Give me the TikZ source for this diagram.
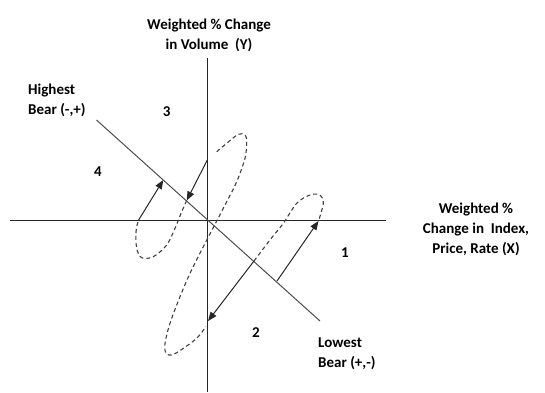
\documentclass[tikz,border=0pt]{standalone}
\usepackage{fontspec}
\setmainfont{Carlito}
\usepackage{tikz}
\usetikzlibrary{arrows.meta}
\tikzset{
  axl/.style={font=\bfseries\fontsize{15}{20}\selectfont, align=center, inner sep=0pt},
  sidelbl/.style={font=\bfseries\fontsize{15}{20}\selectfont, align=left, inner sep=0pt, anchor=west},
  qnum/.style={font=\bfseries\fontsize{15}{18}\selectfont, inner sep=0pt},
  axis/.style={line width=1.2pt, black!85},
  diag/.style={line width=1pt, black!70},
  traj/.style={dash pattern=on 4pt off 3pt, line width=1.1pt, black!75},
  arr/.style={-{Triangle[length=9pt,width=7pt]}, line width=1pt, black!85}
}

\begin{document}
\begin{tikzpicture}[x=1pt,y=-1pt]
\useasboundingbox (0,0) rectangle (545,392);
% axes and the bear line
\coordinate (xl) at (10,220.5);
\coordinate (xr) at (386,220.5);
\coordinate (yt) at (207.3,58.3);
\coordinate (yb) at (207.3,392);
\coordinate (bh) at (96.5,120);
\coordinate (bl) at (320,321);
\draw[axis] (xl) -- (xr);
\draw[axis] (yt) -- (yb);
\draw[diag] (bh) -- (bl);
% labels
\node[axl] (ytitle) at (209,35) {Weighted \% Change\\in Volume\ \ (Y)};
\node[axl] (xtitle) at (476,229) {Weighted \%\\Change in\ \ Index,\\Price, Rate (X)};
\node[sidelbl] (hi) at (28,100.5) {Highest\\Bear (-,+)};
\node[sidelbl] (lo) at (318,353.5) {Lowest\\Bear (+,-)};
\node[qnum] (q1) at (345,253) {1};
\node[qnum] (q2) at (256,333) {2};
\node[qnum] (q3) at (166.7,112) {3};
\node[qnum] (q4) at (98,172) {4};
% arrow ends
\coordinate (a0) at (138.3,220.5); \coordinate (a1) at (163.3,180);
\coordinate (b0) at (207.3,160);   \coordinate (b1) at (186.7,200.5);
\coordinate (c0) at (254,261);     \coordinate (c1) at (208,321);
\coordinate (d0) at (277,281);     \coordinate (d1) at (318.5,221);
\coordinate (e0) at (216.7,151.7); \coordinate (e1) at (206,326.5);
% dashed loops
\draw[traj] plot[smooth, tension=0.55] coordinates {(b1) (181.7,211.7) (175,228.3) (166.7,245) (153.3,256.7) (141.7,257.7) (136.7,248.3) (136,231.7) (a0)};
\draw[traj] plot[smooth, tension=0.55] coordinates {(e0) (226.7,143.3) (238.3,134.3) (245,135) (246.7,141.7) (245,158.3) (236.7,181.7) (226.7,201.7) (216.7,221) (203.3,246.7) (190,273.3) (180,296.7) (170,323.3) (165,343.3) (166,353) (172,355) (183.3,348.3) (196.7,338.3) (e1)};
\draw[traj] plot[smooth, tension=0.55] coordinates {(c0) (260,253) (271.5,238) (283.3,223.3) (296.7,203.3) (310,195) (320,195) (323.3,203.3) (d1)};
% arrows
\draw[arr] (a0) -- (a1);
\draw[arr] (b0) -- (b1);
\draw[arr] (c0) -- (c1);
\draw[arr] (d0) -- (d1);
\end{tikzpicture}
\end{document}
